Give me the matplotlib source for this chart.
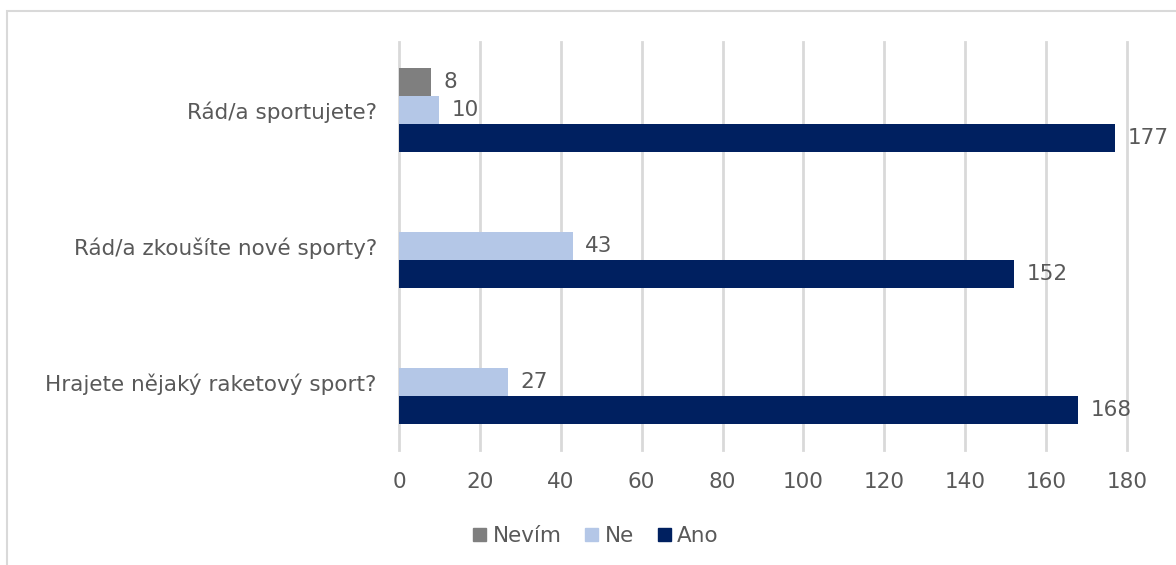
import matplotlib
matplotlib.use("Agg")
import matplotlib.pyplot as plt
import numpy as np
from matplotlib.patches import Rectangle

categories = ["Rád/a sportujete?", "Rád/a zkoušíte nové sporty?", "Hrajete nějaký raketový sport?"]
series_names = ["Nevím", "Ne", "Ano"]
nevim = [8, None, None]
ne = [10, 43, 27]
ano = [177, 152, 168]
colors = ["#7f7f7f", "#b4c7e7", "#002060"]
xticks = [0, 20, 40, 60, 80, 100, 120, 140, 160, 180]

TEXT = "#595959"
FS = 15.5
plt.rcParams["font.family"] = ["DejaVu Sans"]

fig = plt.figure(figsize=(11.76, 5.65), dpi=100)
ax = fig.add_axes([399 / 1176, 1 - 450 / 565, 728 / 1176, 408 / 565])

# light frame around the chart area (cut at right/bottom like the reference)
fig.patches.append(Rectangle((7 / 1176, -0.2), 1.2, 1.2 - 11 / 565,
                             transform=fig.transFigure, fill=False,
                             edgecolor="#d9d9d9", linewidth=1.5))

h = 28 / 136
y = np.arange(len(categories))
for k, (name, vals, col) in enumerate(zip(series_names, [nevim, ne, ano], colors)):
    off = (k - 1) * h
    for i, v in enumerate(vals):
        if v is None:
            continue
        ax.barh(y[i] + off, v, height=h, color=col, zorder=3)
        ax.annotate(str(v), (v, y[i] + off), xytext=(9, 0), textcoords="offset points",
                    va="center", ha="left", fontsize=FS, color=TEXT)

ax.set_ylim(2.5, -0.5)
ax.set_xlim(0, 180)
ax.set_xticks(xticks)
ax.set_yticks(y)
ax.set_yticklabels(categories)
ax.tick_params(length=0, labelsize=FS, labelcolor=TEXT)
ax.tick_params(axis="x", pad=16)
ax.tick_params(axis="y", pad=16)
ax.grid(axis="x", color="#d9d9d9", linewidth=2, zorder=0)
for gl in ax.get_xgridlines():
    gl.set_clip_on(False)
for s in ax.spines.values():
    s.set_visible(False)

handles = [Rectangle((0, 0), 1, 1, color=c) for c in colors]
leg = fig.legend(handles, series_names, loc="center", bbox_to_anchor=(596 / 1176, 1 - 536 / 565),
                 ncol=3, frameon=False, fontsize=FS,
                 handlelength=0.6, handleheight=0.6, handletextpad=0.3, columnspacing=1.1)
for t in leg.get_texts():
    t.set_color(TEXT)

fig.savefig("out.png", dpi=100)
